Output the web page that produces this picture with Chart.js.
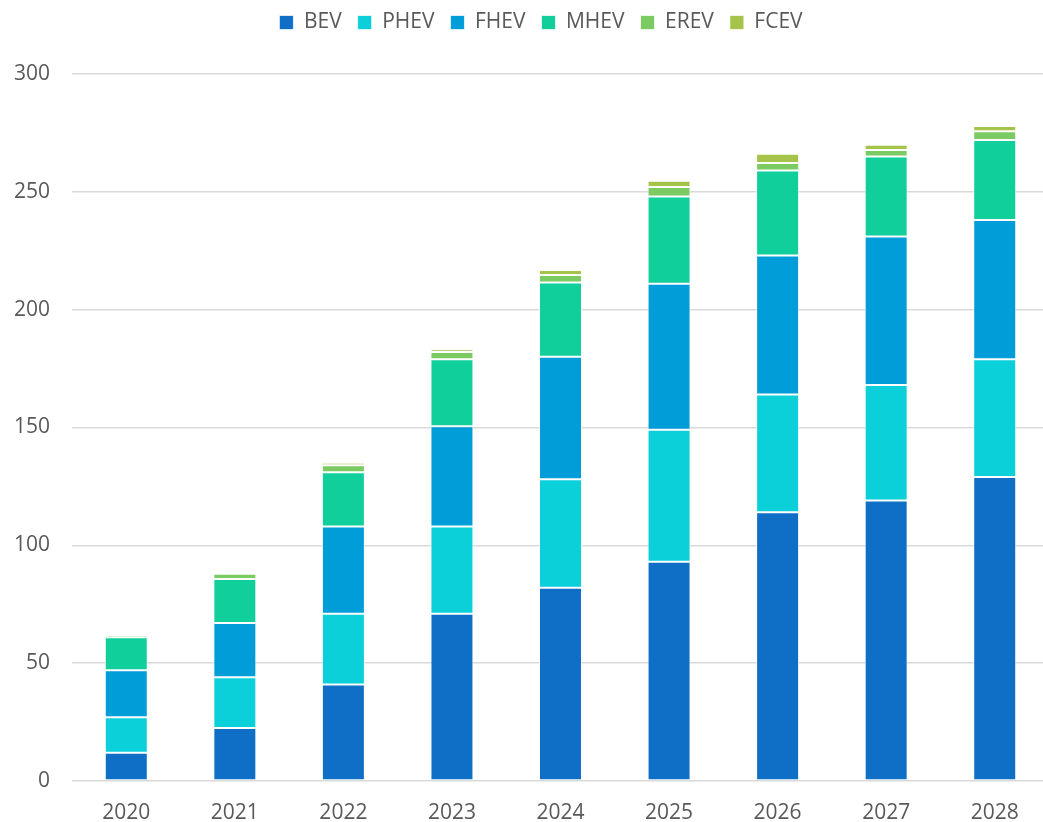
<!DOCTYPE html>
<html>
<head>
<meta charset="utf-8">
<script src="https://cdn.jsdelivr.net/npm/chart.js@4"></script>
<style>
  html, body { margin: 0; padding: 0; background: #fff; overflow: hidden; }
  #wrap { width: 1060px; height: 830px; position: relative; top: -8px; }
</style>
</head>
<body>
<div id="wrap"><canvas id="evChart"></canvas></div>
<script>
// Data
const years = ['2020', '2021', '2022', '2023', '2024', '2025', '2026', '2027', '2028'];
const bev  = [12, 22.5, 41, 71, 82, 93, 114, 119, 129];
const phev = [15, 21.5, 30, 37, 46, 56, 50, 49, 50];
const fhev = [20, 23, 37, 42.5, 52, 62, 59, 63, 59];
const mhev = [14, 18.7, 23, 28.5, 31.5, 37, 36, 34, 34];
const erev = [0.9, 2.2, 3, 3, 3.2, 4, 3.2, 2.8, 3.7];
const fcev = [0.4, 0.3, 1, 1.2, 2.1, 2.7, 4, 2.2, 2.2];
const yTicks = [0, 50, 100, 150, 200, 250, 300];

Chart.defaults.font.family = "'Open Sans', 'Noto Sans', sans-serif";
Chart.defaults.color = '#595959';
Chart.defaults.animation = false;

function series(label, data, color) {
    return {
        label: label,
        data: data,
        backgroundColor: color,
        borderColor: 'rgba(255, 255, 255, 0.7)',
        borderWidth: 1,
        borderSkipped: false,
        stack: 'all'
    };
}

// fixed legend block height, and nudge the legend right/down like the reference
const legendPlace = {
    id: 'legendPlace',
    beforeInit(chart) {
        const fit = chart.legend.fit;
        chart.legend.fit = function() {
            fit.bind(chart.legend)();
            this.height = 82;
        };
    },
    afterLayout(chart) {
        chart.legend.left = 33;
        chart.legend.right = 1049;
        chart.legend.top = 4;
    }
};

const ctx = document.getElementById('evChart').getContext('2d');
const evChart = new Chart(ctx, {
    type: 'bar',
    data: {
        labels: years,
        datasets: [
            series('BEV', bev, '#0F6FC6'),
            series('PHEV', phev, '#0BD0D9'),
            series('FHEV', fhev, '#009DD9'),
            series('MHEV', mhev, '#10CF9B'),
            series('EREV', erev, '#7CCA62'),
            series('FCEV', fcev, '#A5C249')
        ]
    },
    plugins: [legendPlace],
    options: {
        responsive: true,
        maintainAspectRatio: false,
        layout: { padding: { left: 0, right: 11, top: 0, bottom: 0 } },
        datasets: {
            bar: { barPercentage: 1, categoryPercentage: 0.396 }
        },
        plugins: {
            legend: {
                position: 'top',
                labels: {
                    boxWidth: 14,
                    boxHeight: 14,
                    padding: 16,
                    font: { size: 21 },
                    color: '#595959'
                }
            },
            tooltip: { enabled: false }
        },
        scales: {
            x: {
                stacked: true,
                grid: { display: false },
                border: { display: false },
                ticks: { font: { size: 21 }, padding: 11, color: '#595959' },
                afterFit: function(axis) { axis.height = 41; }
            },
            y: {
                stacked: true,
                min: 0,
                max: 300,
                afterBuildTicks: function(axis) {
                    axis.ticks = yTicks.map(v => ({ value: v }));
                },
                grid: { color: '#d9d9d9', lineWidth: 1.5, drawTicks: false },
                border: { display: false },
                ticks: { font: { size: 21 }, padding: 22, color: '#595959' },
                afterFit: function(axis) { axis.width = 72; }
            }
        }
    }
});
</script>
</body>
</html>
